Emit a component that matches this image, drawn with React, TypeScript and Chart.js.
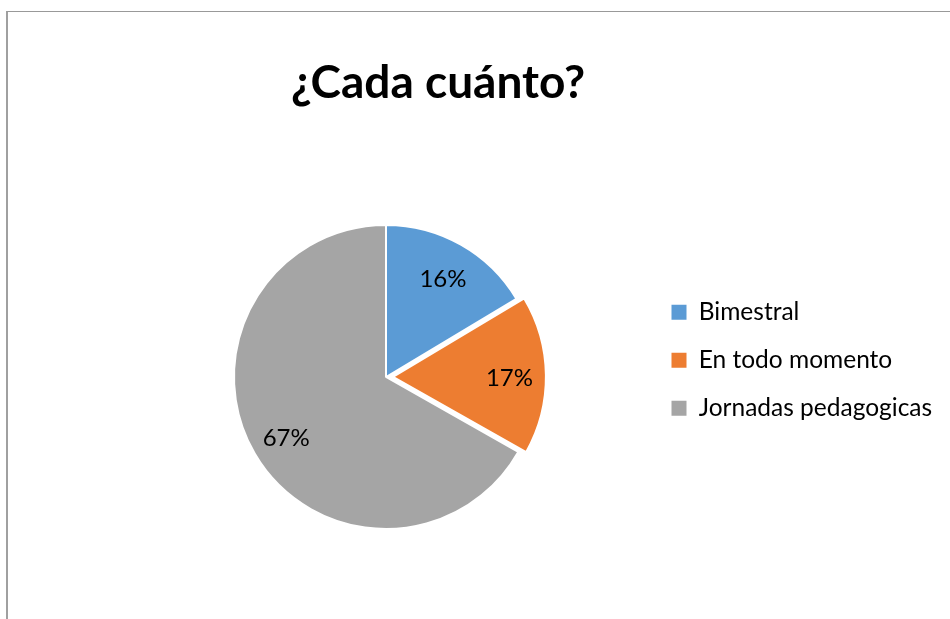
import React, { useEffect, useRef } from "react";
import { Chart, registerables } from "chart.js";

Chart.register(...registerables);

const chartTitle = "¿Cada cuánto?";
const categories = ["Bimestral", "En todo momento", "Jornadas pedagogicas"];
const values = [16.4, 16.8, 66.8];
const sliceColors = ["#5B9BD5", "#ED7D31", "#A5A5A5"];
const sliceOffsets = [0, 28, 0];

const FONT = "Lato, 'Open Sans', sans-serif";

function arcShift(arc: any, p: any) {
  const offset = ((arc.options && arc.options.offset) || 0) / 4;
  const circ = p.endAngle - p.startAngle;
  const fix = 1 - Math.sin(Math.min(Math.PI, circ || 0));
  return offset + offset * fix;
}

const sliceLabelPlugin = {
  id: "sliceLabels",
  afterLayout(chart: any) {
    const lg = chart.legend;
    if (lg) {
      lg.right = chart.width;
      lg.width = lg.right - lg.left;
    }
  },
  afterDatasetsDraw(chart: any) {
    const ctx = chart.ctx;
    const meta = chart.getDatasetMeta(0);
    const data = chart.data.datasets[0].data as number[];
    const total = data.reduce((a, b) => a + b, 0);
    ctx.save();
    ctx.font = `24px ${FONT}`;
    ctx.fillStyle = "#000";
    ctx.textAlign = "center";
    ctx.textBaseline = "middle";
    meta.data.forEach((arc: any, i: number) => {
      const p = arc.getProps(["x", "y", "startAngle", "endAngle", "outerRadius"], true);
      const mid = (p.startAngle + p.endAngle) / 2;
      const shift = arcShift(arc, p);
      const r = p.outerRadius * 0.76;
      const lx = p.x + Math.cos(mid) * (r + shift);
      const ly = p.y + Math.sin(mid) * (r + shift) + 3;
      const pct = Math.round((data[i] / total) * 100) + "%";
      ctx.fillText(pct, lx, ly);
    });
    ctx.restore();
  },
};

export default function App() {
  const canvasRef = useRef<HTMLCanvasElement | null>(null);

  useEffect(() => {
    if (!canvasRef.current) return;
    const chart = new Chart(canvasRef.current, {
      type: "pie",
      data: {
        labels: categories,
        datasets: [
          {
            data: values,
            backgroundColor: sliceColors,
            borderColor: "#ffffff",
            borderWidth: 2,
            offset: sliceOffsets,
            radius: 152,
            clip: false,
          } as any,
        ],
      },
      options: {
        responsive: false,
        animation: false,
        devicePixelRatio: 1,
        layout: { padding: { left: 124, right: 198, top: 0, bottom: 141.5 } },
        plugins: {
          title: {
            display: true,
            text: chartTitle,
            color: "#000",
            font: { family: FONT, size: 46, weight: "bold" },
            padding: { top: 56, bottom: 165.3 },
          },
          legend: {
            display: true,
            position: "right",
            align: "start",
            fullSize: false,
            maxWidth: 104,
            labels: {
              color: "#000",
              font: { family: FONT, size: 24.5 },
              boxWidth: 15,
              boxHeight: 15,
              padding: 23.5,
              generateLabels: (c: any) =>
                Chart.overrides.pie.plugins.legend.labels
                  .generateLabels(c)
                  .map((it: any) => ({ ...it, lineWidth: 0, strokeStyle: "rgba(0,0,0,0)" })),
            },
          },
          tooltip: { enabled: false },
        },
      } as any,
      plugins: [sliceLabelPlugin],
    });
    return () => chart.destroy();
  }, []);

  return (
    <div
      style={{
        position: "fixed",
        left: 0,
        top: 0,
        width: 950,
        height: 619,
        overflow: "hidden",
        background: "#fff",
      }}
    >
      <div
        style={{
          position: "absolute",
          left: 6,
          top: 11,
          width: 960,
          height: 620,
          borderLeft: "2px solid #a0a0a0",
          borderTop: "1px solid #999",
          boxSizing: "border-box",
        }}
      />
      <canvas
        ref={canvasRef}
        width={950}
        height={619}
        style={{ position: "absolute", left: 0, top: 0, width: 950, height: 619, display: "block" }}
      />
    </div>
  );
}
